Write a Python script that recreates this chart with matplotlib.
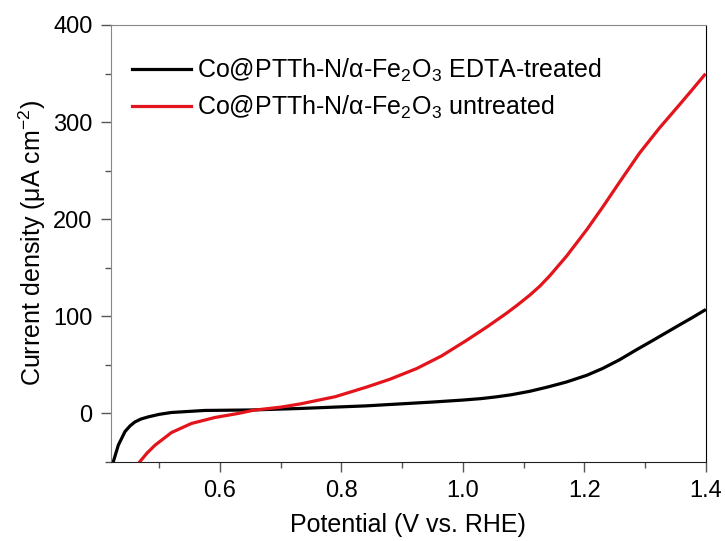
import matplotlib
matplotlib.use("Agg")
import matplotlib.pyplot as plt
from matplotlib.ticker import MultipleLocator, FormatStrFormatter

plt.rcParams['font.family'] = ['Liberation Sans', 'DejaVu Sans']
plt.rcParams['mathtext.fontset'] = 'custom'
plt.rcParams['mathtext.rm'] = 'Liberation Sans'
plt.rcParams['mathtext.it'] = 'Liberation Sans:italic'

# EDTA-treated (black)
v_edta = [0.4243, 0.4325, 0.4435, 0.452, 0.46, 0.47, 0.482, 0.50, 0.52, 0.575,
          0.652, 0.73, 0.84, 0.951, 1.00, 1.03, 1.055, 1.08, 1.11, 1.14, 1.17, 1.204,
          1.23, 1.258, 1.285, 1.313, 1.335, 1.357, 1.378, 1.398]
j_edta = [-50, -33, -19, -13, -9, -6, -3.8, -1.2, 0.7, 2.8,
          3.3, 4.8, 7.5, 11.5, 13.5, 15, 16.8, 19, 22.5, 27, 32, 39,
          46, 55, 65, 75, 83, 91, 98.5, 106]

# untreated (red)
v_untr = [0.468, 0.48, 0.493, 0.52, 0.553, 0.592, 0.63, 0.655, 0.70, 0.732,
          0.79, 0.842, 0.88, 0.924, 0.965, 1.006, 1.04, 1.072, 1.09, 1.11, 1.127, 1.143,
          1.171, 1.204, 1.231, 1.258, 1.291, 1.324, 1.357, 1.378, 1.398]
j_untr = [-50, -41, -33, -20, -10.6, -4.4, -0.3, 3, 6.2, 9.5,
          17, 27, 35, 46, 59, 75, 89, 103, 111.5, 121.5, 131, 141.5,
          162, 189, 213, 238, 268, 294, 318, 333.5, 348.5]

fig = plt.figure(figsize=(7.25, 5.41), dpi=100)
ax = fig.add_axes([0.1527, 0.1466, 0.8207, 0.8072])

ax.plot(v_edta, j_edta, color='black', lw=2.3, solid_joinstyle='round',
        label='Co@PTTh-N/α-Fe$_2$O$_3$ EDTA-treated')
ax.plot(v_untr, j_untr, color='#e3141b', lw=2.3, solid_joinstyle='round',
        label='Co@PTTh-N/α-Fe$_2$O$_3$ untreated')

ax.set_xlim(0.42, 1.4)
ax.set_ylim(-50, 400)
ax.xaxis.set_major_locator(MultipleLocator(0.2))
ax.xaxis.set_minor_locator(MultipleLocator(0.1))
ax.yaxis.set_major_locator(MultipleLocator(100))
ax.yaxis.set_minor_locator(MultipleLocator(50))
ax.xaxis.set_major_formatter(FormatStrFormatter('%.1f'))

ax.tick_params(which='major', length=7, width=1, color='#555555', labelsize=17, pad=6)
ax.tick_params(which='minor', length=4, width=1, color='#555555')
ax.tick_params(top=False, right=False, which='both')

ax.spines['left'].set_color('#888888')
ax.spines['top'].set_color('#888888')
ax.spines['right'].set_color('black')
ax.spines['bottom'].set_color('#222222')

ax.set_xlabel('Potential (V vs. RHE)', fontsize=18, labelpad=8)
ax.set_ylabel('Current density (μA cm$^{-2}$)', fontsize=18, labelpad=4)

ax.legend(loc='upper left', bbox_to_anchor=(0.0358, 0.9267), frameon=False,
          borderpad=0, borderaxespad=0,
          fontsize=18, handlelength=2.36, handletextpad=0.24, labelspacing=0.4)

fig.savefig('out.png', dpi=100)
